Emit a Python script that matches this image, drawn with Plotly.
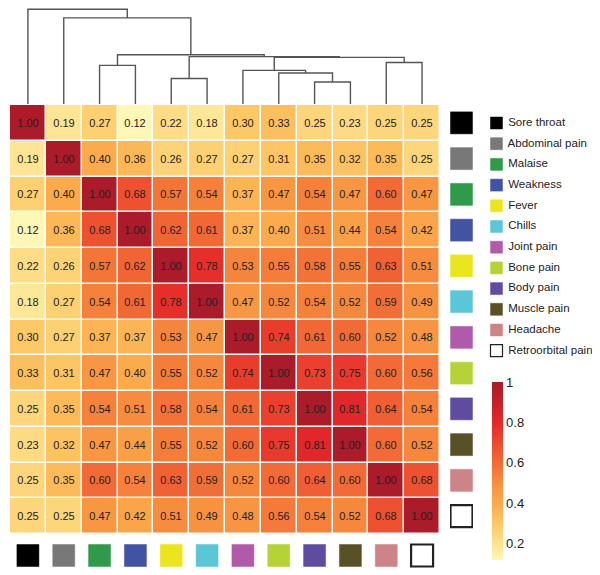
import plotly.graph_objects as go

# symptoms in dendrogram order
sintomas = ['Sore throat', 'Abdominal pain', 'Malaise', 'Weakness', 'Fever', 'Chills',
            'Joint pain', 'Bone pain', 'Body pain', 'Muscle pain', 'Headache', 'Retroorbital pain']

cores_sintomas = ['#000000', '#787878', '#2f9a49', '#4353a4', '#ebe51d', '#5bc7d6',
                  '#b05ba9', '#b6d335', '#5f4ca1', '#5a5026', '#cd8486', '#ffffff']

correlacao = [
    [1.00, 0.19, 0.27, 0.12, 0.22, 0.18, 0.30, 0.33, 0.25, 0.23, 0.25, 0.25],
    [0.19, 1.00, 0.40, 0.36, 0.26, 0.27, 0.27, 0.31, 0.35, 0.32, 0.35, 0.25],
    [0.27, 0.40, 1.00, 0.68, 0.57, 0.54, 0.37, 0.47, 0.54, 0.47, 0.60, 0.47],
    [0.12, 0.36, 0.68, 1.00, 0.62, 0.61, 0.37, 0.40, 0.51, 0.44, 0.54, 0.42],
    [0.22, 0.26, 0.57, 0.62, 1.00, 0.78, 0.53, 0.55, 0.58, 0.55, 0.63, 0.51],
    [0.18, 0.27, 0.54, 0.61, 0.78, 1.00, 0.47, 0.52, 0.54, 0.52, 0.59, 0.49],
    [0.30, 0.27, 0.37, 0.37, 0.53, 0.47, 1.00, 0.74, 0.61, 0.60, 0.52, 0.48],
    [0.33, 0.31, 0.47, 0.40, 0.55, 0.52, 0.74, 1.00, 0.73, 0.75, 0.60, 0.56],
    [0.25, 0.35, 0.54, 0.51, 0.58, 0.54, 0.61, 0.73, 1.00, 0.81, 0.64, 0.54],
    [0.23, 0.32, 0.47, 0.44, 0.55, 0.52, 0.60, 0.75, 0.81, 1.00, 0.60, 0.52],
    [0.25, 0.35, 0.60, 0.54, 0.63, 0.59, 0.52, 0.60, 0.64, 0.60, 1.00, 0.68],
    [0.25, 0.25, 0.47, 0.42, 0.51, 0.49, 0.48, 0.56, 0.54, 0.52, 0.68, 1.00],
]

# merges of the dendrogram: (left id, right id, height); new ids start at 12
ligacoes = [
    (8, 9, 0.223),
    (4, 5, 0.257),
    (7, 12, 0.313),
    (6, 14, 0.340),
    (2, 3, 0.390),
    (10, 11, 0.420),
    (15, 17, 0.471),
    (13, 18, 0.479),
    (16, 19, 0.497),
    (1, 20, 0.870),
    (0, 21, 0.957),
]

ticks_barra = [0.2, 0.4, 0.6, 0.8, 1.0]
texto_ticks_barra = ['0.2', '0.4', '0.6', '0.8', '1']

escala = [
    [0.00, '#fff7b6'], [0.09, '#fee38e'], [0.205, '#fdc866'], [0.318, '#fbab4c'],
    [0.432, '#f78f3f'], [0.545, '#f26b36'], [0.66, '#ec4a2e'], [0.773, '#e4282a'],
    [0.886, '#c61f2b'], [1.00, '#ab1b29'],
]

# page has an 8px body margin, so the figure is a bit smaller than the window
OFF = 8
W, H = 600 - OFF, 575 - OFF


def fx(x_pag):
    return (x_pag - OFF) / W


def fy(y_pag):
    return (H - (y_pag - OFF)) / H


n = len(sintomas)
idx = list(range(n))
fonte = 'Liberation Sans, Arial'

fig = go.Figure()

# heatmap
fig.add_trace(go.Heatmap(
    z=correlacao, x=idx, y=idx, zmin=0.12, zmax=1.0, colorscale=escala,
    xgap=1.5, ygap=1.5, texttemplate='%{z:.2f}',
    textfont=dict(size=11, color='#222222', family=fonte),
    hoverinfo='skip',
    colorbar=dict(x=fx(492), xanchor='left', y=fy(471), yanchor='middle',
                  len=178, lenmode='pixels', thickness=11, outlinewidth=0,
                  xpad=0, ypad=0, ticks='', tickvals=ticks_barra, ticktext=texto_ticks_barra,
                  tickfont=dict(size=13, color='#222222', family=fonte)),
))

# dendrogram
pos = {i: float(i) for i in idx}
alt = {i: 0.0 for i in idx}
dx, dy = [], []
for k, (a, b, h) in enumerate(ligacoes):
    novo = n + k
    dx += [pos[a], pos[a], pos[b], pos[b], None]
    dy += [alt[a], h, h, alt[b], None]
    pos[novo] = (pos[a] + pos[b]) / 2
    alt[novo] = h
fig.add_trace(go.Scatter(x=dx, y=dy, xaxis='x', yaxis='y2', mode='lines',
                         line=dict(color='#555555', width=1.4), hoverinfo='skip', showlegend=False))

# colour squares under the columns
linha_sq = ['#222222' if c == '#ffffff' else c for c in cores_sintomas]
larg_sq = [2.2 if c == '#ffffff' else 0.5 for c in cores_sintomas]
fig.add_trace(go.Scatter(x=idx, y=[0.5] * n, xaxis='x', yaxis='y3', mode='markers',
                         marker=dict(symbol='square', size=22, color=cores_sintomas,
                                     line=dict(color=linha_sq, width=larg_sq)),
                         hoverinfo='skip', showlegend=False))

# colour squares beside the rows
fig.add_trace(go.Scatter(x=[0.5] * n, y=idx, xaxis='x2', yaxis='y', mode='markers',
                         marker=dict(symbol='square', size=22, color=cores_sintomas,
                                     line=dict(color=linha_sq, width=larg_sq)),
                         hoverinfo='skip', showlegend=False))

# legend drawn by hand on pixel axes (page coordinates)
leg_y = [123 + 20.7 * i for i in idx]
larg_leg = [1.2 if c == '#ffffff' else 0.5 for c in cores_sintomas]
fig.add_trace(go.Scatter(x=[496.5] * n, y=leg_y, xaxis='x3', yaxis='y4', mode='markers+text',
                         text=[' ' + s for s in sintomas], textposition='middle right',
                         textfont=dict(size=11.5, color='#222222', family=fonte),
                         marker=dict(symbol='square', size=12, color=cores_sintomas,
                                     line=dict(color=linha_sq, width=larg_leg)),
                         cliponaxis=False, hoverinfo='skip', showlegend=False))

eixo_off = dict(visible=False, showgrid=False, zeroline=False, fixedrange=True)
fig.update_layout(
    width=W, height=H, margin=dict(l=0, r=0, t=0, b=0),
    paper_bgcolor='white', plot_bgcolor='rgba(0,0,0,0)', showlegend=False,
    xaxis=dict(domain=[fx(10), fx(440)], range=[-0.5, n - 0.5], anchor='y', **eixo_off),
    yaxis=dict(domain=[fy(534), fy(105)], range=[n - 0.5, -0.5], anchor='x', **eixo_off),
    yaxis2=dict(domain=[fy(104), 1], range=[0, 0.97], anchor='x', **eixo_off),
    yaxis3=dict(domain=[0, fy(536)], range=[0, 1], anchor='x', **eixo_off),
    xaxis2=dict(domain=[fx(450), fx(473)], range=[0, 1], anchor='y', **eixo_off),
    xaxis3=dict(domain=[0, 1], range=[OFF, OFF + W], anchor='y4', **eixo_off),
    yaxis4=dict(domain=[0, 1], range=[OFF + H, OFF], anchor='x3', **eixo_off),
)

fig.write_html('out.html')
